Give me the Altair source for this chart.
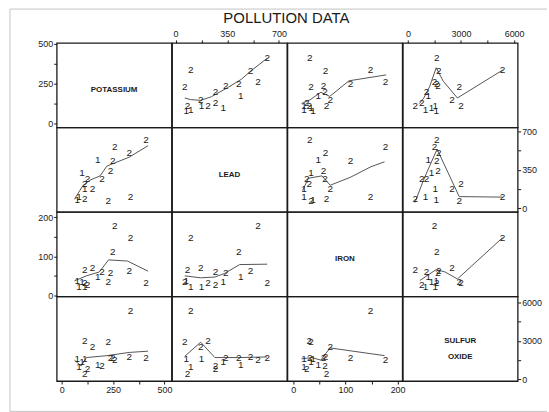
import altair as alt
import pandas as pd

potassium = [335, 227, 112, 76, 85, 150, 112, 112, 126, 196, 99, 238, 248, 175, 328, 258, 410]
lead      = [103, 62, 80, 73, 103, 170, 175, 220, 270, 270, 322, 339, 427, 441, 508, 559, 621]
iron      = [148, 34, 64, 38, 21, 71, 21, 31, 26, 61, 34, 58, 110, 48, 62, 177, 32]
sulfur    = [5350, 2900, 420, 1600, 1000, 2500, 1550, 3000, 780, 1050, 1340, 1700, 1630, 1150, 1750, 1500, 1630]
group     = ["2", "2", "2", "1", "1", "2", "1", "2", "2", "2", "1", "2", "2", "1", "2", "2", "2"]

var_keys = ["potassium", "lead", "iron", "sulfur"]
var_names = ["POTASSIUM", "LEAD", "IRON", "SULFUR\nOXIDE"]
values = {"potassium": potassium, "lead": lead, "iron": iron, "sulfur": sulfur}

x_domains = {"potassium": [-24, 534], "lead": [-24, 754], "iron": [-11, 209], "sulfur": [-286, 6202]}
y_domains = {"potassium": [-25, 506], "lead": [-36, 739], "iron": [-3, 214], "sulfur": [-132, 6466]}
tick_values = {"potassium": [0, 125, 250, 375, 500], "lead": [0, 175, 350, 525, 700],
               "iron": [0, 50, 100, 150, 200], "sulfur": [0, 1500, 3000, 4500, 6000]}
major_step = {"potassium": 250, "lead": 350, "iron": 100, "sulfur": 3000}

# lowess smooth vertices: (y variable, x variable): (x values, y values)
smooth = {
    ("potassium", "lead"): ([62, 100, 170, 243, 356, 446, 510, 621], [160, 150, 145, 168, 227, 278, 330, 410]),
    ("potassium", "iron"): ([16, 32, 53, 70, 107, 178], [125, 148, 196, 170, 268, 305]),
    ("potassium", "sulfur"): ([650, 900, 1225, 1600, 2000, 2800, 5350], [125, 160, 230, 350, 265, 160, 335]),
    ("lead", "potassium"): ([62, 103, 137, 187, 220, 328, 420], [80, 205, 255, 295, 385, 466, 572]),
    ("lead", "iron"): ([18, 29, 55, 71, 110, 149, 175], [160, 273, 295, 209, 283, 379, 424]),
    ("lead", "sulfur"): ([400, 880, 1230, 1650, 2600, 2900, 5350], [50, 255, 385, 540, 210, 105, 100]),
    ("iron", "potassium"): ([62, 120, 183, 228, 320, 420], [37, 50, 60, 91, 88, 62]),
    ("iron", "lead"): ([62, 170, 266, 330, 434, 620], [50, 45, 47, 56, 79, 80]),
    ("iron", "sulfur"): ([676, 1229, 1600, 2100, 2800, 5350], [38, 55, 66, 60, 42, 148]),
    ("sulfur", "potassium"): ([62, 95, 120, 220, 328, 420], [1500, 1050, 1700, 1850, 2100, 2200]),
    ("sulfur", "lead"): ([62, 170, 266, 430, 620], [1800, 2900, 1700, 1700, 1750]),
    ("sulfur", "iron"): ([16, 36, 53, 62, 71, 175], [1600, 1700, 1500, 2000, 2450, 1850]),
}

title_text = "POLLUTION DATA"
PW, PH = 115.5, 85
FONT = "Liberation Sans"
INK = "#1a1a1a"


def make_axis(key, orient):
    step = major_step[key]
    return alt.Axis(orient=orient, values=tick_values[key], format="d",
                    labelExpr=f"datum.value % {step} == 0 ? datum.label : ''",
                    domain=False, grid=False, ticks=True, tickSize=3, tickColor=INK,
                    labelFont=FONT, labelFontSize=9, labelColor=INK,
                    labelPadding=2 if orient == "bottom" else 1,
                    labelFlush=False, labelOverlap=False, title=None)


def panel(i, j):
    yk, xk = var_keys[i], var_keys[j]
    xscale = alt.Scale(domain=x_domains[xk], nice=False, zero=False)
    yscale = alt.Scale(domain=y_domains[yk], nice=False, zero=False)
    xaxis = None
    yaxis = None
    if i == 0 and j in (1, 3):
        xaxis = make_axis(xk, "top")
    if i == 3 and j in (0, 2):
        xaxis = make_axis(xk, "bottom")
    if j == 0 and i in (0, 2):
        yaxis = make_axis(yk, "left")
    if j == 3 and i in (1, 3):
        yaxis = make_axis(yk, "right")

    X = alt.X("x:Q", scale=xscale, axis=xaxis)
    Y = alt.Y("y:Q", scale=yscale, axis=yaxis)

    layers = []
    if i == j:
        xd, yd = x_domains[xk], y_domains[yk]
        df = pd.DataFrame({"x": [(xd[0] + xd[1]) / 2], "y": [(yd[0] + yd[1]) / 2],
                           "t": [var_names[i]]})
        layers.append(alt.Chart(df).mark_text(font=FONT, fontSize=8, fontWeight="bold",
                                              color=INK, baseline="top",
                                              dy=-2 if i == 3 else 1,
                                              lineBreak="\n", lineHeight=16)
                      .encode(x=X, y=Y, text="t:N"))
    else:
        sx, sy = smooth[(yk, xk)]
        ldf = pd.DataFrame({"x": sx, "y": sy, "o": list(range(len(sx)))})
        layers.append(alt.Chart(ldf).mark_line(color="#555555", strokeWidth=1)
                      .encode(x=X, y=Y, order="o:Q"))
        pdf = pd.DataFrame({"x": values[xk], "y": values[yk], "g": group})
        layers.append(alt.Chart(pdf).mark_text(font=FONT, fontSize=10, color=INK,
                                               align="center", baseline="middle")
                      .encode(x=X, y=Y, text="g:N"))

    if i == 0 and j == 0:
        one = pd.DataFrame({"t": [title_text]})
        layers.append(alt.Chart(one).mark_text(font=FONT, fontSize=15, color=INK,
                                               align="center", baseline="middle")
                      .encode(x=alt.value(231), y=alt.value(-25), text="t:N"))
        frame = alt.Chart(one).mark_rule(color="#c4c4c4", strokeWidth=1)
        layers.append(frame.encode(x=alt.value(-47), y=alt.value(-34), y2=alt.value(370.5)))
        layers.append(frame.encode(x=alt.value(-47), x2=alt.value(493), y=alt.value(-34)))
        layers.append(frame.encode(x=alt.value(-47), x2=alt.value(493), y=alt.value(370.5)))

    return alt.layer(*layers).properties(width=PW, height=PH)


panels = [panel(i, j) for i in range(4) for j in range(4)]

chart = alt.concat(*panels, columns=4, spacing=0, bounds="flush").properties(
    padding={"left": 8, "top": 6, "right": 0, "bottom": 0},
    background="white",
).configure_view(stroke=INK, strokeWidth=1.3)

chart.save("out.html", embed_options={"renderer": "svg", "actions": False})
